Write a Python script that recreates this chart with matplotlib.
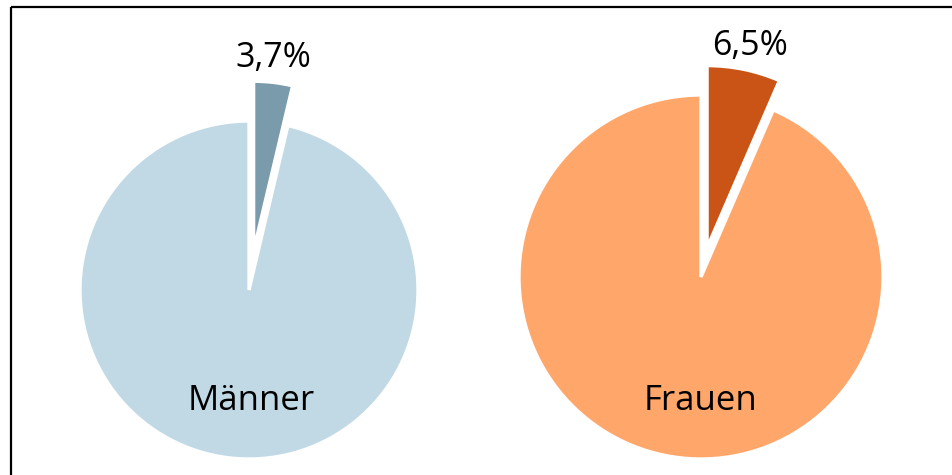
import matplotlib

matplotlib.use("Agg")
import matplotlib.pyplot as plt

plt.rcParams["font.family"] = ["Open Sans", "DejaVu Sans"]

W, H = 953, 475

# data
groups = ["Männer", "Frauen"]
shares = [3.7, 6.5]
share_labels = ["3,7%", "6,5%"]

# styling / layout (pixel coordinates, y measured from top)
colors = [("#7A9BAC", "#C1D9E5"), ("#CA5416", "#FFA66B")]
centers = [(249, 290), (701, 277)]
radii = [169, 182]
explode_px = [40, 30]  # matplotlib offsets exploded wedges in data units
pct_pos = [(273, 67), (750, 55)]
name_pos = [(251, 410), (701, 410)]


def yy(y):
    return H - y


fig = plt.figure(figsize=(W / 100, H / 100), dpi=100)
ax = fig.add_axes([0, 0, 1, 1])

for i, share in enumerate(shares):
    cx, cy = centers[i]
    ax.pie(
        [share, 100 - share],
        colors=list(colors[i]),
        startangle=90,
        counterclock=False,
        explode=[explode_px[i], 0],
        center=(cx, yy(cy)),
        radius=radii[i],
        wedgeprops=dict(edgecolor="white", linewidth=2.4),
        frame=True,
    )
    px, py = pct_pos[i]
    ax.text(px, yy(py), share_labels[i], ha="center", va="baseline", fontsize=24.5, color="black")
    nx, ny = name_pos[i]
    ax.text(nx, yy(ny), groups[i], ha="center", va="baseline", fontsize=25, color="black")

ax.set_xlim(0, W)
ax.set_ylim(0, H)
ax.set_aspect("equal")
ax.axis("off")

# frame lines (cropped border)
ax.plot([11, W], [yy(7), yy(7)], color="black", lw=1.6, solid_capstyle="butt")
ax.plot([11, 11], [yy(7), 0], color="black", lw=1.6, solid_capstyle="butt")

fig.savefig("out.png", dpi=100, facecolor="white")
